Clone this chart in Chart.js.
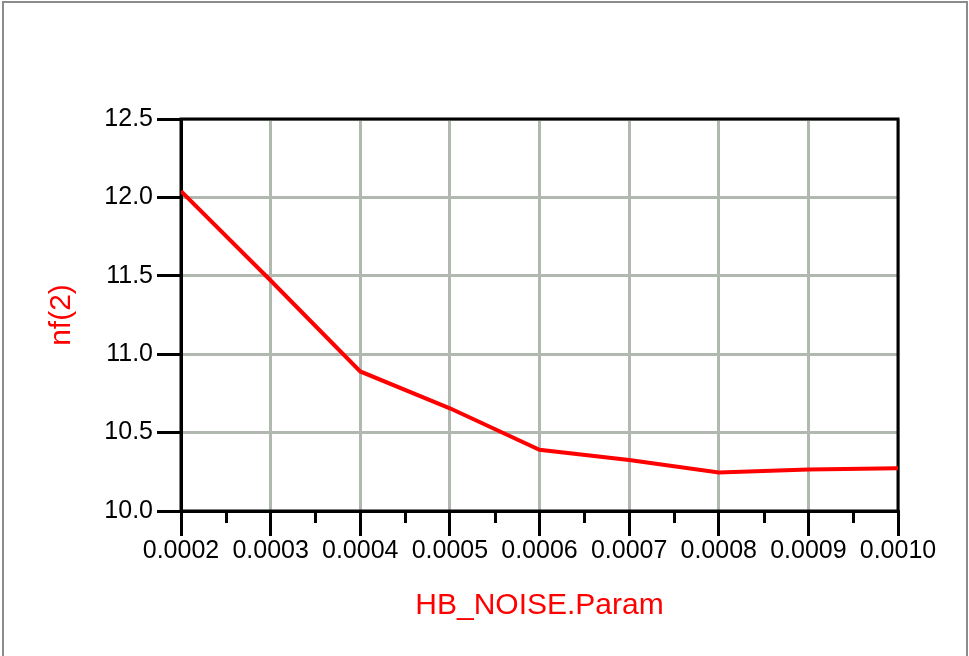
<!DOCTYPE html>
<html>
<head>
<meta charset="utf-8">
<script src="https://cdn.jsdelivr.net/npm/chart.js@4/dist/chart.umd.min.js"></script>
<style>
  html, body { margin: 0; padding: 0; background: #fff; width: 969px; height: 656px; overflow: hidden; }
  #frame { position: absolute; left: 2px; top: 1px; width: 966px; height: 720px; border: 2px solid #8c8c8c; box-sizing: border-box; }
  #c { position: absolute; left: 0; top: 0; }
</style>
</head>
<body>
<div id="frame"></div>
<canvas id="c" width="969" height="656"></canvas>
<script>
// ---- data ----
const paramValues = [0.0002, 0.0003, 0.0004, 0.0005, 0.0006, 0.0007, 0.0008, 0.0009, 0.0010];
const nfValues    = [12.04, 11.47, 10.89, 10.655, 10.39, 10.325, 10.245, 10.265, 10.272];
const xTicks      = [0.0002, 0.0003, 0.0004, 0.0005, 0.0006, 0.0007, 0.0008, 0.0009, 0.0010];
const xMinorTicks = [0.00025, 0.00035, 0.00045, 0.00055, 0.00065, 0.00075, 0.00085, 0.00095];
const yTicks      = [10.0, 10.5, 11.0, 11.5, 12.0, 12.5];
const xTitle = 'HB_NOISE.Param';
const yTitle = 'nf(2)';

const points = paramValues.map((x, i) => ({ x: x, y: nfValues[i] }));

const boxPlugin = {
  id: 'boxPlugin',
  beforeDatasetsDraw(chart) {
    const { ctx, chartArea: a } = chart;
    ctx.save();
    ctx.strokeStyle = '#000';
    ctx.lineWidth = 3;
    ctx.strokeRect(a.left, a.top, a.right - a.left, a.bottom - a.top);
    // minor ticks on x axis
    const xs = chart.scales.x;
    ctx.lineWidth = 3;
    ctx.beginPath();
    xMinorTicks.forEach(v => {
      const px = Math.round(xs.getPixelForValue(v)) + 0.5;
      ctx.moveTo(px, a.bottom);
      ctx.lineTo(px, a.bottom + 12);
    });
    ctx.stroke();
    ctx.restore();
  }
};

const tickFont = { family: '"Liberation Sans", Arial, sans-serif', size: 25 };
const titleFont = { family: '"Liberation Sans", Arial, sans-serif', size: 30 };

new Chart(document.getElementById('c'), {
  type: 'line',
  data: {
    datasets: [{
      data: points,
      borderColor: '#ff0000',
      borderWidth: 4,
      pointRadius: 0,
      fill: false,
      tension: 0
    }]
  },
  options: {
    responsive: false,
    animation: false,
    events: [],
    plugins: { legend: { display: false }, tooltip: { enabled: false } },
    layout: { padding: { left: 0, top: 119, right: 71, bottom: 0 } },
    scales: {
      x: {
        type: 'linear',
        min: 0.0002,
        max: 0.0010,
        afterFit(s) { s.height = 145; },
        afterBuildTicks(s) { s.ticks = xTicks.map(v => ({ value: v })); },
        ticks: {
          color: '#000',
          font: tickFont,
          padding: 0,
          maxRotation: 0,
          autoSkip: false,
          callback: v => Number(v).toFixed(4)
        },
        grid: { color: '#b0b8b0', lineWidth: 3, tickColor: '#000', tickLength: 25, tickWidth: 3 },
        border: { color: '#000', width: 3 },
        title: { display: true, text: xTitle, color: '#ff0000', font: titleFont, padding: { top: 0, bottom: 32 } }
      },
      y: {
        type: 'linear',
        min: 10.0,
        max: 12.5,
        afterFit(s) { s.width = 181; },
        afterBuildTicks(s) { s.ticks = yTicks.map(v => ({ value: v })); },
        ticks: {
          color: '#000',
          font: tickFont,
          padding: 4,
          callback: v => Number(v).toFixed(1)
        },
        grid: { color: '#b0b8b0', lineWidth: 3, tickColor: '#000', tickLength: 24, tickWidth: 3 },
        border: { color: '#000', width: 3 },
        title: { display: true, text: yTitle, color: '#ff0000', font: titleFont, padding: { top: 44, bottom: 0 } }
      }
    }
  },
  plugins: [boxPlugin]
});
</script>
</body>
</html>
